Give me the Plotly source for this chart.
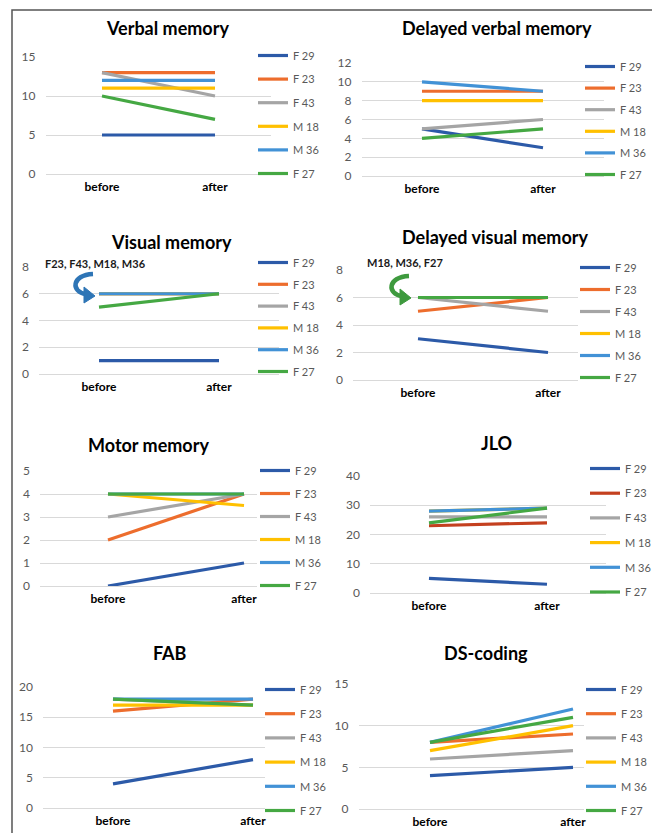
import plotly.graph_objects as go

W, H = 652, 833          # visible page area
PAD_R, PAD_B = 60, 40    # hidden spare room so nothing pushes the margins
FONT = "Lato"

# ---------------- data ----------------
categories = ["before", "after"]
subjects = ["F 29", "F 23", "F 43", "M 18", "M 36", "F 27"]

verbal_memory = [[5, 5], [13, 13], [13, 10], [11, 11], [12, 12], [10, 7]]
delayed_verbal_memory = [[5, 3], [9, 9], [5, 6], [8, 8], [10, 9], [4, 5]]
visual_memory = [[1, 1], [6, 6], [6, 6], [6, 6], [6, 6], [5, 6]]
delayed_visual_memory = [[3, 2], [5, 6], [6, 5], [6, 6], [6, 6], [6, 6]]
motor_memory = [[0, 1], [2, 4], [3, 4], [4, 3.5], [4, 4], [4, 4]]
jlo = [[5, 3], [23, 24], [26, 26], [28, 29], [28, 29], [24, 29]]
fab = [[4, 8], [16, 18], [18, 17], [17, 17], [18, 18], [18, 17]]
ds_coding = [[4, 5], [8, 9], [6, 7], [7, 10], [8, 12], [8, 11]]

panel_titles = ["Verbal memory", "Delayed verbal memory", "Visual memory",
                "Delayed visual memory", "Motor memory", "JLO", "FAB", "DS-coding"]
panel_data = [verbal_memory, delayed_verbal_memory, visual_memory,
              delayed_visual_memory, motor_memory, jlo, fab, ds_coding]
y_max = [15, 12, 8, 8, 5, 40, 20, 15]
y_dtick = [5, 2, 2, 2, 1, 10, 5, 5]

# ---------------- styles ----------------
colors = ["#2C5AA8", "#ED6D2D", "#A5A5A5", "#FFC000", "#4292D6", "#45A843"]
jlo_colors = ["#2C5AA8", "#C4401F", "#A5A5A5", "#FFC000", "#4292D6", "#45A843"]

# pixel geometry per panel
geom = [
    dict(bx=102, ax=215, xend=271, y0=174, yt=57, lx=261, ly=56, ls=23.6, tx=167, ty=28),
    dict(bx=422, ax=543, xend=603.5, y0=176, yt=63, lx=588, ly=67, ls=21.6, tx=497, ty=28),
    dict(bx=99, ax=219, xend=279, y0=374, yt=267, lx=261, ly=263, ls=21.8, tx=172, ty=242),
    dict(bx=418, ax=548, xend=578, y0=380, yt=270, lx=583, ly=268, ls=22, tx=495, ty=237),
    dict(bx=108, ax=244, xend=257, y0=586, yt=471, lx=263, ly=471, ls=23, tx=148, ty=445),
    dict(bx=429, ax=547, xend=606, y0=593, yt=476, lx=593, ly=469, ls=24.7, tx=496, ty=443),
    dict(bx=113, ax=253, xend=265, y0=808, yt=687, lx=268, ly=690, ls=24.2, tx=170, ty=653),
    dict(bx=430, ax=573, xend=584, y0=809, yt=684, lx=589, ly=690, ls=24.2, tx=486, ty=653),
]


def px(x):
    return x / W


def py(y):
    return 1 - y / H


fig = go.Figure()
layout = dict(
    width=W + PAD_R, height=H + PAD_B,
    margin=dict(l=0, r=PAD_R, t=0, b=PAD_B, autoexpand=False),
    paper_bgcolor="white", plot_bgcolor="white",
    font=dict(family=FONT, color="#595959"),
    annotations=[], shapes=[],
)

ITEM_H = 19
for k in range(8):
    g = geom[k]
    n = k + 1
    xa = "x" if n == 1 else f"x{n}"
    ya = "y" if n == 1 else f"y{n}"
    lg = "legend" if n == 1 else f"legend{n}"
    cols = jlo_colors if k == 5 else colors
    for i, name in enumerate(subjects):
        fig.add_trace(go.Scatter(
            x=categories, y=panel_data[k][i], mode="lines", name=name,
            line=dict(color=cols[i], width=3.2),
            xaxis=xa, yaxis=ya, legend=lg, legendgroup=f"p{n}_{i}",
            hoverinfo="skip",
        ))
    unit = g["ax"] - g["bx"]
    xstart = g["bx"] - 0.5 * unit
    rend = (g["xend"] - g["bx"]) / unit
    layout["xaxis" if n == 1 else f"xaxis{n}"] = dict(
        domain=[px(xstart), px(g["xend"])], anchor=ya, type="category",
        range=[-0.5, rend], showgrid=False, zeroline=False, showline=False,
        ticks="", tickfont=dict(family=FONT, size=12, color="#000000", weight="bold"),
        ticklabelstandoff=4, fixedrange=True, automargin=False,
    )
    layout["yaxis" if n == 1 else f"yaxis{n}"] = dict(
        domain=[py(g["y0"]), py(g["yt"])], anchor=xa,
        range=[0, y_max[k]], dtick=y_dtick[k], showgrid=True,
        gridcolor="#D9D9D9", gridwidth=1, zeroline=True, zerolinecolor="#D9D9D9",
        zerolinewidth=1, showline=False, ticks="",
        tickfont=dict(family=FONT, size=12, color="#595959"),
        ticklabelstandoff=9, fixedrange=True, automargin=False,
    )
    layout[lg] = dict(
        x=px(g["lx"] - 8), y=py(g["ly"] - 15), xanchor="left", yanchor="top",
        bgcolor="rgba(0,0,0,0)", borderwidth=0, itemwidth=30,
        tracegroupgap=max(g["ls"] - ITEM_H, 0), traceorder="grouped",
        font=dict(family=FONT, size=11, color="#595959"),
    )
    layout["annotations"].append(dict(
        text=f"<b>{panel_titles[k]}</b>", x=px(g["tx"]), y=py(g["ty"]),
        xref="paper", yref="paper", xanchor="center", yanchor="middle",
        showarrow=False, font=dict(family=FONT, size=18, color="#000000"),
    ))

# note labels
layout["annotations"].append(dict(
    text="<b>F23, F43, M18, M36</b>", x=px(95), y=py(263), xref="paper", yref="paper",
    xanchor="center", yanchor="middle", showarrow=False,
    font=dict(family=FONT, size=11, color="#1a1a1a")))
layout["annotations"].append(dict(
    text="<b>M18, M36, F27</b>", x=px(405), y=py(262), xref="paper", yref="paper",
    xanchor="center", yanchor="middle", showarrow=False,
    font=dict(family=FONT, size=11, color="#1a1a1a")))


def ppath(points, cmd):
    parts = []
    for c, pts in zip(cmd, points):
        if c == "Z":
            parts.append("Z")
        else:
            parts.append(c + " " + " ".join(f"{px(a):.5f},{py(b):.5f}" for a, b in pts))
    return " ".join(parts)


def curved_arrow(x0, y0, color):
    # curve
    layout["shapes"].append(dict(
        type="path", xref="paper", yref="paper",
        path=ppath([[(x0, y0)], [(x0 - 22, y0 + 1), (x0 - 22, y0 + 18), (x0 - 7, y0 + 20)]], ["M", "C"]),
        line=dict(color=color, width=4.5), fillcolor="rgba(0,0,0,0)"))
    # head
    layout["shapes"].append(dict(
        type="path", xref="paper", yref="paper",
        path=ppath([[(x0 - 9, y0 + 13)], [(x0 + 2, y0 + 22)], [(x0 - 9, y0 + 29)], []], ["M", "L", "L", "Z"]),
        line=dict(color=color, width=1), fillcolor=color))


curved_arrow(93, 274, "#2E75B6")
curved_arrow(409, 276, "#3E9A3E")

# frame
layout["shapes"].append(dict(
    type="path", xref="paper", yref="paper",
    path=ppath([[(12, 833)], [(12, 10)], [(652, 10)]], ["M", "L", "L"]),
    line=dict(color="#555555", width=1.5)))

fig.update_layout(**layout)

post = ("document.documentElement.style.margin='0';document.documentElement.style.padding='0';"
        "document.documentElement.style.overflow='hidden';"
        "document.body.style.margin='0';document.body.style.padding='0';"
        "document.body.style.overflow='hidden';"
        "var gd=document.getElementById('{plot_id}');"
        "gd.style.position='absolute';gd.style.left='0px';gd.style.top='0px';"
        "gd.style.width='652px';gd.style.height='833px';gd.style.overflow='hidden';")
fig.write_html("out.html", post_script=post, config={"displayModeBar": False, "responsive": False})
